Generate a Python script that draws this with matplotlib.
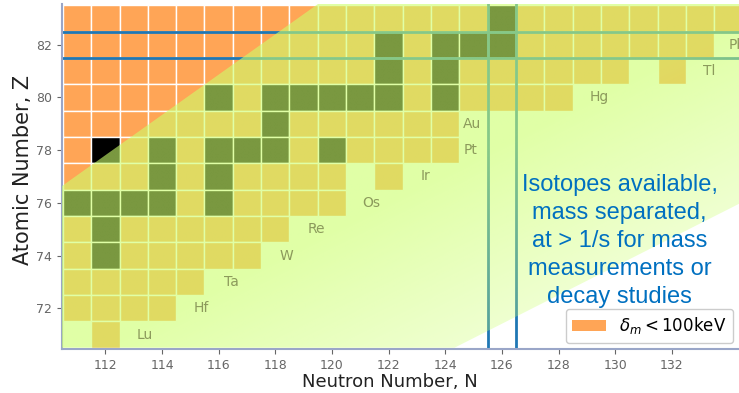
import numpy as np
import matplotlib.pyplot as plt
from matplotlib.patches import Rectangle, Polygon, Patch

# chart rows (Z) and the span of cells in each row (N)
z_vals = [83, 82, 81, 80, 79, 78, 77, 76, 75, 74, 73, 72, 71, 70]
n_first = [111, 111, 111, 111, 111, 111, 111, 111, 111, 111, 111, 111, 112, 112]
n_last = [134, 133, 130, 128, 124, 124, 120, 120, 118, 117, 115, 114, 112, 112]
extra_cells = [(132, 81), (122, 77)]
missing_cells = [(121, 77)]

# isotopes available at > 1/s (drawn black)
black_cells = [(126, 83),
               (122, 82), (124, 82), (125, 82), (126, 82),
               (122, 81), (124, 81),
               (116, 80), (118, 80), (119, 80), (120, 80), (121, 80), (122, 80), (124, 80),
               (118, 79),
               (112, 78), (114, 78), (116, 78), (117, 78), (118, 78), (120, 78),
               (114, 77), (116, 77),
               (111, 76), (112, 76), (113, 76), (114, 76), (116, 76),
               (112, 75),
               (112, 74)]

elements = ['Pb', 'Tl', 'Hg', 'Au', 'Pt', 'Ir', 'Os', 'Re', 'W', 'Ta', 'Hf', 'Lu']
elem_z = [82, 81, 80, 79, 78, 77, 76, 75, 74, 73, 72, 71]
elem_n = [134.3, 133.3, 129.45, 124.95, 124.9, 123.3, 121.4, 119.45, 118.4, 116.45, 115.4, 113.4]

ORANGE = '#ffa556'
BAND = (0.80, 1.0, 0.42)

fig = plt.figure(figsize=(7.39, 3.93), dpi=100)
ax = fig.add_axes([62 / 739, 44 / 393, (739 - 62) / 739, (389 - 44) / 393])
x0, x1 = 110.47, 134.37
y0, y1 = 70.45, 83.55
ax.set_xlim(x0, x1)
ax.set_ylim(y0, y1)

black = set(black_cells)
cells = []
for z, a, b in zip(z_vals, n_first, n_last):
    for n in range(a, b + 1):
        cells.append((n, z))
cells += extra_cells
cells = [c for c in cells if c not in missing_cells]

for n, z in cells:
    fc = 'black' if (n, z) in black else ORANGE
    ax.add_patch(Rectangle((n - 0.5, z - 0.5), 1, 1, facecolor=fc,
                           edgecolor='white', lw=1, zorder=1))

for z in [81.5, 82.5]:
    ax.axhline(z, color='#1f77b4', lw=2, zorder=2)
for n in [125.5, 126.5]:
    ax.axvline(n, color='#1f77b4', lw=2, zorder=2)

# translucent band between the delta_m < 100 keV edge and the yield limit
up_n, up_z, up_s = 110.80, 76.89, 0.765
lo_n, lo_z, lo_s = 124.33, 70.49, 0.545
band = [(x0, up_z + up_s * (x0 - up_n)),
        (up_n + (y1 - up_z) / up_s, y1),
        (x1, y1),
        (x1, lo_z + lo_s * (x1 - lo_n)),
        (lo_n, 70.5),
        (x0, 70.5)]
poly = Polygon(band, closed=True, facecolor='none', edgecolor='none')
ax.add_patch(poly)

# fade toward the lower edge (distance measured in pixels)
px_n, px_z = 28.33, 26.43
gx = np.linspace(x0, x1, 400)
gy = np.linspace(y0, y1, 250)
GX, GY = np.meshgrid(gx, gy)
d = (GY - (lo_z + lo_s * (GX - lo_n))) * px_z / np.hypot(1, lo_s * px_z / px_n)
alpha = 0.6 - 0.28 * np.clip(1 - d / 160, 0, 1)
rgba = np.zeros(GX.shape + (4,))
rgba[..., 0], rgba[..., 1], rgba[..., 2] = BAND
rgba[..., 3] = alpha
im = ax.imshow(rgba, extent=(x0, x1, y0, y1), origin='lower', aspect='auto',
               interpolation='bilinear', zorder=3)
im.set_clip_path(poly)

for name, n, z in zip(elements, elem_n, elem_z):
    ax.text(n, z, name, color='#8c9a5c', fontsize=10, ha='center', va='center', zorder=4)

ax.text(130.15, 74.55, 'Isotopes available,\nmass separated,\nat > 1/s for mass\nmeasurements or\ndecay studies',
        color='#0070c0', fontsize=17, family='Liberation Sans', ha='center', va='center',
        linespacing=1.35, zorder=5)

ax.set_xticks(range(112, 134, 2))
ax.set_yticks(range(72, 84, 2))
ax.tick_params(colors='#666666', labelsize=9)
for s in ['top', 'right']:
    ax.spines[s].set_visible(False)
for s in ['left', 'bottom']:
    ax.spines[s].set_color('#9aa6c8')
    ax.spines[s].set_linewidth(1.5)

ax.set_xlabel('Neutron Number, N', fontsize=13, color='#222222')
ax.set_ylabel('Atomic Number, Z', fontsize=15, color='#222222')
ax.xaxis.set_label_coords((390 - 62) / 677, -(373 - 349) / 345)
ax.yaxis.set_label_coords(-(62 - 33) / 677, 0.52)

ax.legend(handles=[Patch(facecolor=ORANGE, label=r'$\delta_m < 100$keV')],
          loc='lower right', bbox_to_anchor=(733 / 739, 50 / 393),
          bbox_transform=fig.transFigure, fontsize=12, framealpha=1, borderaxespad=0)

fig.savefig('out.png', dpi=100)
